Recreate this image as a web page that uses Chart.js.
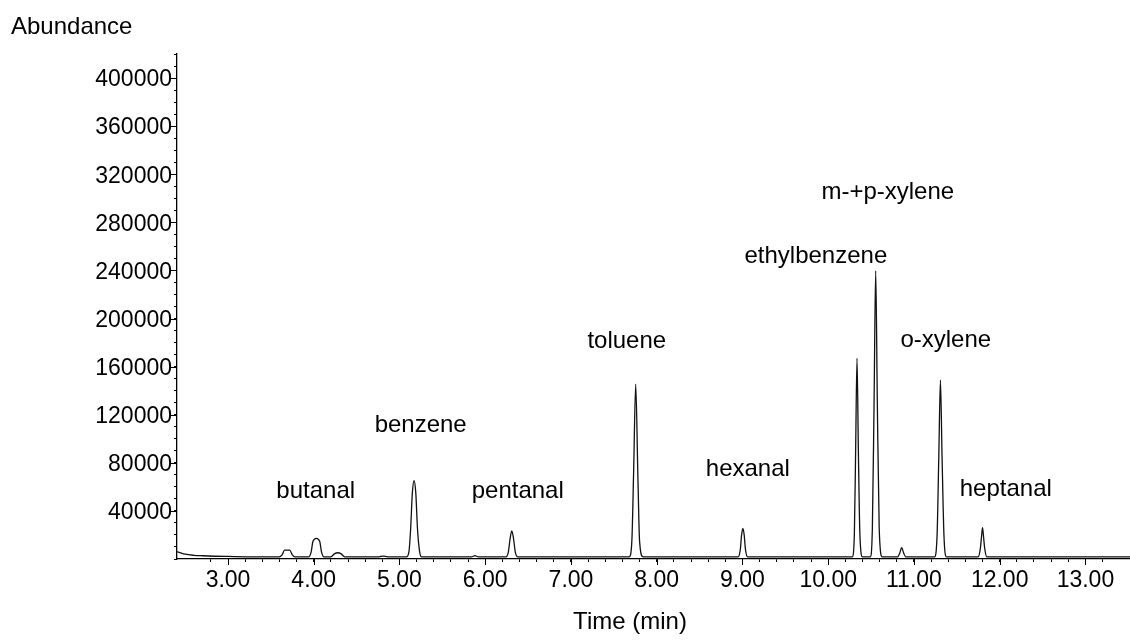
<!DOCTYPE html>
<html>
<head>
<meta charset="utf-8">
<script src="https://cdn.jsdelivr.net/npm/chart.js@4/dist/chart.umd.min.js"></script>
<style>
  body { margin: 0; background: #fff; }
  #wrap { width: 1130px; height: 640px; }
</style>
</head>
<body>
<div id="wrap"><canvas id="chrom" width="1130" height="640"></canvas></div>
<script>
// retention time (min) and abundance
const times = [
  2.405, 2.45, 2.5, 2.6, 2.7, 2.85, 3.0, 3.3,
  3.60, 3.63, 3.66, 3.72, 3.75, 3.78,
  3.94, 3.97, 3.99, 4.03, 4.07, 4.09, 4.12,
  4.20, 4.24, 4.28, 4.32, 4.36,
  4.76, 4.81, 4.86,
  5.08, 5.11, 5.13, 5.15, 5.17, 5.19, 5.21, 5.235, 5.26,
  5.84, 5.88, 5.92,
  6.24, 6.27, 6.29, 6.31, 6.33, 6.35, 6.38,
  7.68, 7.71, 7.73, 7.755, 7.78, 7.80, 7.84,
  8.95, 8.975, 8.99, 9.005, 9.02, 9.035, 9.06,
  10.28, 10.305, 10.32, 10.336, 10.352, 10.37, 10.40,
  10.49, 10.515, 10.535, 10.554, 10.573, 10.595, 10.63,
  10.81, 10.835, 10.857, 10.88, 10.905,
  11.24, 11.27, 11.29, 11.309, 11.328, 11.35, 11.38,
  11.75, 11.775, 11.79, 11.80, 11.81, 11.825, 11.85,
  13.52
];
const abundance = [
  6100, 5000, 4000, 3100, 2700, 2300, 2100, 1800,
  1800, 3500, 7300, 7300, 3500, 1800,
  1800, 6000, 14500, 17200, 14500, 6000, 1800,
  1800, 4300, 5200, 4300, 1800,
  1800, 2400, 1800,
  1800, 6000, 25000, 55000, 65100, 55000, 25000, 6000, 1800,
  1800, 2800, 1800,
  1800, 6000, 17000, 23300, 17000, 6000, 1800,
  1800, 15000, 70000, 145500, 70000, 15000, 1800,
  1800, 8000, 20000, 25500, 20000, 8000, 1800,
  1800, 20000, 90000, 166900, 90000, 20000, 1800,
  1800, 25000, 130000, 239700, 130000, 25000, 1800,
  1800, 5000, 9400, 5000, 1800,
  1800, 20000, 85000, 148800, 85000, 20000, 1800,
  1800, 9000, 20000, 26000, 20000, 9000, 1800,
  1800
];

// compound names and where their labels sit (time, abundance at text baseline)
const compounds = ['butanal', 'benzene', 'pentanal', 'toluene', 'hexanal', 'ethylbenzene', 'm-+p-xylene', 'o-xylene', 'heptanal'];
const labelTimes = [4.023, 5.247, 6.379, 7.651, 9.063, 9.856, 10.695, 11.371, 12.071];
const labelAbund = [50700, 105600, 50700, 175400, 69000, 246100, 299300, 176300, 52000];

const xMin = 2.405, xMax = 13.52;
const yMin = 0, yMax = 420000;
const xStep = 0.2, xMajor = 1;
const yStep = 10000, yMajor = 40000;

const FONT = '"Liberation Sans", Arial, Helvetica, sans-serif';

const points = times.map((t, i) => ({ x: t, y: abundance[i] }));

function onStep(v, step) {
  return Math.abs(v / step - Math.round(v / step)) < 1e-6;
}

const extras = {
  id: 'extras',
  afterDraw(chart) {
    const ctx = chart.ctx;
    const xs = chart.scales.x, ys = chart.scales.y;
    const area = chart.chartArea;
    ctx.save();
    ctx.strokeStyle = '#000';
    ctx.lineWidth = 1;
    // longer marks on the labelled ticks
    ctx.beginPath();
    xs.ticks.forEach(t => {
      if (onStep(t.value, xMajor)) {
        const px = Math.round(xs.getPixelForValue(t.value)) + 0.5;
        ctx.moveTo(px, area.bottom);
        ctx.lineTo(px, area.bottom + 6);
      }
    });
    ys.ticks.forEach(t => {
      if (t.value > 0 && onStep(t.value, yMajor)) {
        const py = Math.round(ys.getPixelForValue(t.value)) + 0.5;
        ctx.moveTo(area.left, py);
        ctx.lineTo(area.left - 6, py);
      }
    });
    ctx.stroke();

    ctx.fillStyle = '#000';
    ctx.font = '24px ' + FONT;
    ctx.textBaseline = 'alphabetic';
    ctx.textAlign = 'center';
    compounds.forEach((name, i) => {
      ctx.fillText(name, xs.getPixelForValue(labelTimes[i]), ys.getPixelForValue(labelAbund[i]));
    });
    ctx.textAlign = 'left';
    ctx.fillText('Abundance', 11, 34);
    ctx.textAlign = 'center';
    ctx.textBaseline = 'middle';
    ctx.fillText('Time (min)', 630, 622);
    ctx.restore();
  }
};

const ctx = document.getElementById('chrom').getContext('2d');
const chrom = new Chart(ctx, {
  type: 'line',
  data: {
    datasets: [{
      data: points,
      borderColor: '#111',
      borderWidth: 1.3,
      pointRadius: 0,
      fill: false,
      cubicInterpolationMode: 'monotone'
    }]
  },
  options: {
    responsive: false,
    animation: false,
    devicePixelRatio: 1,
    layout: { padding: { top: 54, left: 0, right: 0, bottom: 0 } },
    plugins: { legend: { display: false }, tooltip: { enabled: false } },
    scales: {
      x: {
        type: 'linear',
        min: xMin,
        max: xMax,
        afterBuildTicks: axis => { axis.ticks = axis.ticks.filter(t => onStep(t.value, xStep)); },
        afterFit: axis => { axis.height = 81; },
        ticks: {
          stepSize: xStep,
          autoSkip: false,
          maxRotation: 0,
          padding: 5,
          color: '#000',
          font: { family: FONT, size: 23 },
          callback: v => onStep(v, xMajor) ? Math.round(v).toFixed(2) : ''
        },
        grid: { drawOnChartArea: false, tickLength: 3, color: '#000' },
        border: { color: '#000', width: 1.3 }
      },
      y: {
        type: 'linear',
        min: yMin,
        max: yMax,
        afterBuildTicks: axis => { axis.ticks = axis.ticks.filter(t => onStep(t.value, yStep)); },
        afterFit: axis => { axis.width = 177; },
        ticks: {
          stepSize: yStep,
          autoSkip: false,
          padding: 2,
          labelOffset: 2,
          color: '#000',
          font: { family: FONT, size: 23 },
          callback: v => (v > 0 && onStep(v, yMajor)) ? String(Math.round(v)) : ''
        },
        grid: { drawOnChartArea: false, tickLength: 3, color: '#000' },
        border: { color: '#000', width: 1.3 }
      }
    }
  },
  plugins: [extras]
});
</script>
</body>
</html>
